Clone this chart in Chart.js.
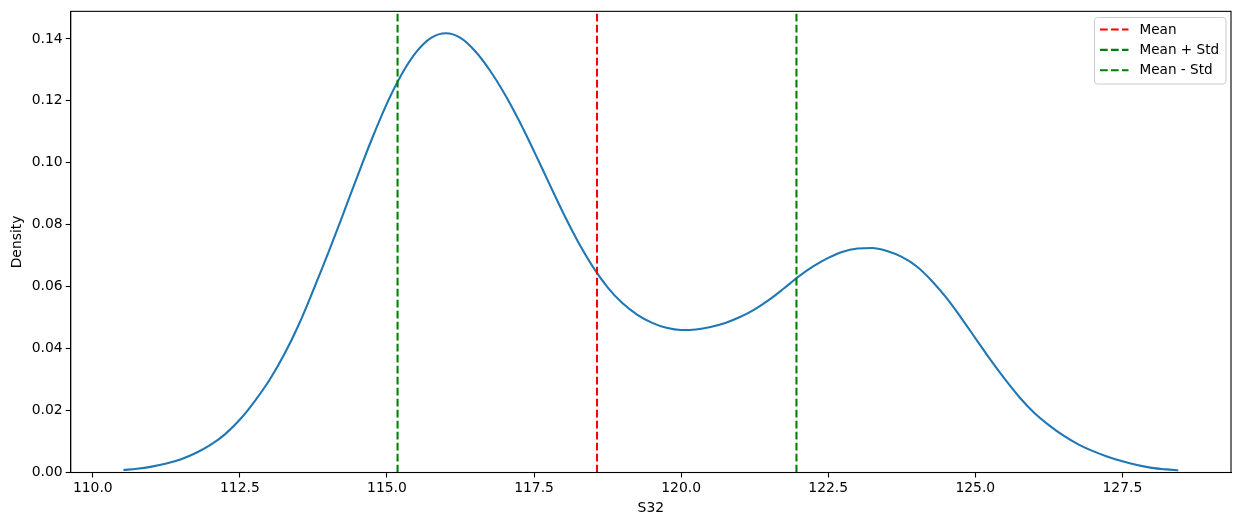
<!DOCTYPE html>
<html>
<head>
<meta charset="utf-8">
<script src="https://cdn.jsdelivr.net/npm/chart.js@4/dist/chart.umd.min.js"></script>
<style>
html,body{margin:0;padding:0;background:#fff;}
canvas{display:block;}
</style>
</head>
<body>
<canvas id="c" width="1242" height="525"></canvas>
<script>
// KDE curve of S32
const kdeX = [110.52,110.75,111.0,111.25,111.5,111.75,112.0,112.25,112.5,112.75,113.0,113.25,113.5,113.75,114.0,114.25,114.5,114.75,115.0,115.25,115.5,115.75,116.0,116.25,116.5,116.75,117.0,117.25,117.5,117.75,118.0,118.25,118.5,118.75,119.0,119.25,119.5,119.75,120.0,120.25,120.5,120.75,121.0,121.25,121.5,121.75,122.0,122.25,122.5,122.75,123.0,123.25,123.5,123.75,124.0,124.25,124.5,124.75,125.0,125.25,125.5,125.75,126.0,126.25,126.5,126.75,127.0,127.25,127.5,127.75,128.0,128.25,128.45];
const kdeY = [0.0008,0.0012,0.0019,0.0029,0.0043,0.0063,0.0089,0.0124,0.0171,0.0230,0.0298,0.0380,0.0477,0.0590,0.0708,0.0832,0.0958,0.1080,0.1192,0.1286,0.1358,0.1403,0.1418,0.1403,0.1360,0.1298,0.1222,0.1134,0.1037,0.0936,0.0836,0.0744,0.0664,0.0598,0.0547,0.0510,0.0484,0.0467,0.0460,0.0462,0.0470,0.0483,0.0502,0.0527,0.0558,0.0595,0.0633,0.0666,0.0693,0.0713,0.0723,0.0725,0.0715,0.0696,0.0666,0.0621,0.0566,0.0502,0.0434,0.0366,0.0302,0.0243,0.0193,0.0153,0.0119,0.0091,0.0069,0.0051,0.0036,0.0024,0.0015,0.0010,0.0007];
// Reference lines
const lineLabels = ['Mean', 'Mean + Std', 'Mean - Std'];
const lineValues = [118.57, 115.18, 121.96];
const lineColors = ['#ff0000', '#008000', '#008000'];
// Axes
const xTicks = [110.0,112.5,115.0,117.5,120.0,122.5,125.0,127.5];
const yTicks = [0.00,0.02,0.04,0.06,0.08,0.10,0.12,0.14];
const xRange = [109.624, 129.346];
const yRange = [0, 0.1489];
const xTitle = 'S32';
const yTitle = 'Density';

const FONT = 'DejaVu Sans';

const datasets = lineLabels.map((lab, i) => ({
  label: lab,
  data: [{x: lineValues[i], y: yRange[0]}, {x: lineValues[i], y: yRange[1]}],
  borderColor: lineColors[i],
  borderWidth: 2.08,
  borderDash: [7.7, 3.3],
  pointRadius: 0,
  fill: false,
  order: 1
}));
datasets.push({
  label: 'S32',
  data: kdeX.map((x, i) => ({x: x, y: kdeY[i]})),
  borderColor: '#1f77b4',
  borderWidth: 2.08,
  pointRadius: 0,
  fill: false,
  cubicInterpolationMode: 'monotone',
  order: 10
});

const framePlugin = {
  id: 'frame',
  afterDatasetsDraw(chart) {
    const a = chart.chartArea, ctx = chart.ctx;
    ctx.save();
    ctx.strokeStyle = '#000';
    ctx.lineWidth = 1.1;
    ctx.strokeRect(a.left, a.top, a.right - a.left, a.bottom - a.top);
    // legend
    const bx = 1094.5, by = 17.5, bw = 131.5, bh = 66.5, r = 3;
    ctx.globalAlpha = 0.8;
    ctx.fillStyle = '#fff';
    ctx.beginPath();
    ctx.roundRect(bx, by, bw, bh, r);
    ctx.fill();
    ctx.globalAlpha = 1;
    ctx.strokeStyle = '#cccccc';
    ctx.lineWidth = 1;
    ctx.stroke();
    ctx.font = '13.6px "' + FONT + '"';
    ctx.textBaseline = 'middle';
    ctx.fillStyle = '#000';
    lineLabels.forEach((lab, i) => {
      const yy = 29.5 + i * 20.4;
      ctx.strokeStyle = lineColors[i];
      ctx.lineWidth = 2.08;
      ctx.setLineDash([7.7, 3.3]);
      ctx.beginPath();
      ctx.moveTo(1100, yy);
      ctx.lineTo(1128.5, yy);
      ctx.stroke();
      ctx.setLineDash([]);
      ctx.fillText(lab, 1139.5, yy + 0.5);
    });
    ctx.restore();
  }
};

new Chart(document.getElementById('c'), {
  type: 'line',
  data: { datasets: datasets },
  options: {
    responsive: false,
    animation: false,
    layout: { padding: { top: 10.3, right: 11, left: 0, bottom: 0 } },
    plugins: { legend: { display: false }, tooltip: { enabled: false } },
    scales: {
      x: {
        type: 'linear',
        min: xRange[0], max: xRange[1],
        afterBuildTicks: s => { s.ticks = xTicks.map(v => ({value: v})); },
        afterFit: s => { s.height = 52.5; },
        ticks: {
          color: '#000', padding: 3,
          font: { family: FONT, size: 13.9 },
          maxRotation: 0, autoSkip: false,
          callback: v => v.toFixed(1)
        },
        grid: { display: true, drawOnChartArea: false, drawTicks: true, tickLength: 5, tickColor: '#000', tickWidth: 1.1 },
        border: { display: true, color: '#000', width: 1.1 },
        title: { display: true, text: xTitle, color: '#000', font: { family: FONT, size: 13.9 }, padding: { top: 0, bottom: 8 } }
      },
      y: {
        type: 'linear',
        min: yRange[0], max: yRange[1],
        afterBuildTicks: s => { s.ticks = yTicks.map(v => ({value: v})); },
        afterFit: s => { s.width = 70.7; },
        ticks: {
          color: '#000', padding: 3,
          font: { family: FONT, size: 13.9 },
          autoSkip: false,
          callback: v => v.toFixed(2)
        },
        grid: { display: true, drawOnChartArea: false, drawTicks: true, tickLength: 5, tickColor: '#000', tickWidth: 1.1 },
        border: { display: true, color: '#000', width: 1.1 },
        title: { display: true, text: yTitle, color: '#000', font: { family: FONT, size: 13.9 }, padding: { top: 9, bottom: 9 } }
      }
    }
  },
  plugins: [framePlugin]
});
</script>
</body>
</html>
